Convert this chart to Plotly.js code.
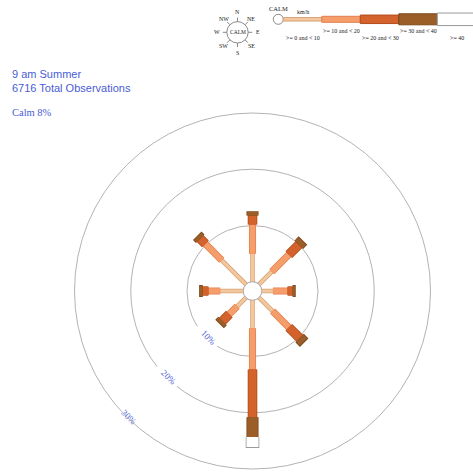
<!DOCTYPE html>
<html>
<head>
<meta charset="utf-8">
<script src="https://cdn.plot.ly/plotly-3.0.1.min.js"></script>
<style>html,body{margin:0;padding:0;background:#fff;}#chart{width:473px;height:474px;}</style>
</head>
<body>
<div id="chart"></div>
<script>
// ---- data ----
const directions = ['N','NE','E','SE','S','SW','W','NW'];
const speedClasses = ['>= 0 and < 10','>= 10 and < 20','>= 20 and < 30','>= 30 and < 40','>= 40'];
const pct0to10  = [5.0, 3.2, 2.0, 3.4, 5.0, 2.2, 4.1, 6.1];
const pct10to20 = [5.2, 4.3, 2.6, 4.1, 7.3, 2.0, 2.1, 4.1];
const pct20to30 = [1.6, 2.5, 0.9, 2.7, 8.5, 1.7, 1.0, 1.3];
const pct30to40 = [0.6, 0.9, 0.4, 1.0, 3.5, 0.6, 0.5, 0.6];
const pct40up   = [0.0, 0.0, 0.0, 0.0, 1.8, 0.0, 0.0, 0.0];
const ringValues = [10, 20, 30];
const ringLabels = ['10%', '20%', '30%'];
const ringLabelDirection = 'SW';
const calmPct = 8;
const totalObservations = 6716;
const titleText = '9 am Summer';

// ---- styles ----
const fills    = ['#f2c89f', '#f59e6c', '#d4622c', '#9b5e28', '#ffffff'];
const outlines = ['#d9a274', '#e2804c', '#b24c1c', '#7a4618', '#9a9a9a'];
const widths   = [3, 5.5, 8, 10.5, 12];
const blue = '#4a5cd6';
const W = 473, H = 474;
const cx = 252.5, cy = 291, R = 178;

const series = [pct0to10, pct10to20, pct20to30, pct30to40, pct40up];
const traces = [];

// calm circle (edge of hole)
const circTheta = [], circR = [];
for (let a = 0; a <= 360; a += 5) { circTheta.push(a); circR.push(0); }
traces.push({type:'scatterpolar', mode:'lines', r:circR, theta:circTheta,
  line:{color:'#999', width:1}, hoverinfo:'skip', showlegend:false});

const cum = directions.map(() => 0);
series.forEach((vals, k) => {
  const rO = [], rF = [], th = [];
  directions.forEach((d, i) => {
    const s = cum[i], e = cum[i] + vals[i];
    if (vals[i] > 0) {
      rF.push(s, e, null);
      rO.push(s, e + 0.15, null);
      th.push(i * 45, i * 45, null);
    }
    cum[i] = e;
  });
  traces.push({type:'scatterpolar', mode:'lines', r:rO, theta:th, connectgaps:false,
    line:{color:outlines[k], width:widths[k] + 1.6}, hoverinfo:'skip', showlegend:false});
  traces.push({type:'scatterpolar', mode:'lines', r:rF, theta:th, connectgaps:false,
    line:{color:fills[k], width:widths[k]}, name:speedClasses[k], showlegend:false});
});

// ring labels (white gap + text), placed by the polar scales
const labTheta = ringValues.map(() => directions.indexOf(ringLabelDirection) * 45);
traces.push({type:'scatterpolar', mode:'markers', r:ringValues, theta:labTheta, cliponaxis:false,
  marker:{symbol:'line-ew', size:20, angle:45, color:'#fff', line:{color:'#fff', width:9}},
  hoverinfo:'skip', showlegend:false});
traces.push({type:'scatterpolar', mode:'text', r:ringValues, theta:labTheta, text:ringLabels, cliponaxis:false,
  textposition:'middle center', textfont:{family:'Liberation Serif, Times New Roman, serif', size:9, color:blue},
  hoverinfo:'skip', showlegend:false});

// ---- legend decorations (paper coords from pixels) ----
const px = x => x / W, py = y => 1 - y / H;
const shapes = [], annotations = [];
const serif = 'Liberation Serif, Times New Roman, serif';
function txt(x, y, t, size, opts) {
  annotations.push(Object.assign({xref:'paper', yref:'paper', x:px(x), y:py(y), text:t, showarrow:false,
    xanchor:'center', yanchor:'middle', font:{family:serif, size:size, color:'#222'}}, opts || {}));
}
// compass
const ccx = 237.5, ccy = 32.3, cr = 10.7;
shapes.push({type:'circle', xref:'paper', yref:'paper', x0:px(ccx-cr), x1:px(ccx+cr), y0:py(ccy+cr), y1:py(ccy-cr),
  line:{color:'#888', width:1}, fillcolor:'#fff'});
txt(ccx, ccy, 'CALM', 5.5);
directions.forEach((d, i) => {
  const a = i * Math.PI / 4;
  const sx = Math.sin(a), sy = -Math.cos(a);
  shapes.push({type:'line', xref:'paper', yref:'paper', x0:px(ccx+sx*cr), y0:py(ccy+sy*cr),
    x1:px(ccx+sx*(cr+4)), y1:py(ccy+sy*(cr+4)), line:{color:'#888', width:1}});
  const lr = (i % 2 === 0) ? cr + 10 : cr + 8.5;
  txt(ccx + sx*lr, ccy + sy*lr, d, 6);
});
// speed bar legend
const lcx = 278.3, lcy = 19.3;
shapes.push({type:'circle', xref:'paper', yref:'paper', x0:px(lcx-5), x1:px(lcx+5), y0:py(lcy+5), y1:py(lcy-5),
  line:{color:'#888', width:1}, fillcolor:'#fff'});
txt(lcx, 8.5, 'CALM', 6.5);
txt(303, 12.5, 'km/h', 6);
const segStart = 283.3, segLen = 38.5;
speedClasses.forEach((c, k) => {
  const x0 = segStart + k * segLen, x1 = (k === 4) ? 480 : x0 + segLen, h = widths[k] + 0.5;
  shapes.push({type:'rect', xref:'paper', yref:'paper', x0:px(x0), x1:px(x1), y0:py(lcy + h/2), y1:py(lcy - h/2),
    fillcolor:fills[k], line:{color:outlines[k], width:1}});
  const ly = (k % 2 === 0) ? 38.3 : 30.7;
  txt(x0 + 20, ly, c, 6);
});
// titles
annotations.push({xref:'paper', yref:'paper', x:px(10), y:py(66), xanchor:'left', yanchor:'top', align:'left',
  showarrow:false, text:titleText + '<br>' + totalObservations + ' Total Observations',
  font:{family:'Liberation Sans, Arial, sans-serif', size:11, color:blue}});
annotations.push({xref:'paper', yref:'paper', x:px(10), y:py(112), xanchor:'left', yanchor:'middle',
  showarrow:false, text:'Calm ' + calmPct + '%', font:{family:serif, size:10.5, color:blue}});

const layout = {
  width: W, height: H,
  margin: {l:0, r:0, t:0, b:0},
  paper_bgcolor: '#fff',
  showlegend: false,
  polar: {
    domain: {x:[px(cx - R), px(cx + R)], y:[py(cy + R), py(cy - R)]},
    bgcolor: 'rgba(0,0,0,0)',
    hole: 9.2 / R,
    radialaxis: {range:[0, 30], tickvals:ringValues, showticklabels:false, showline:false, ticks:'',
      showgrid:true, gridcolor:'#b3b3b3', gridwidth:1},
    angularaxis: {rotation:90, direction:'clockwise', showgrid:false, showticklabels:false, ticks:'',
      showline:true, linecolor:'#b3b3b3', linewidth:1}
  },
  shapes: shapes,
  annotations: annotations
};
Plotly.newPlot('chart', traces, layout, {staticPlot:true, displayModeBar:false}).then(gd => {
  gd.querySelectorAll('.scatterlayer .textpoint text').forEach(t => {
    const x = t.getAttribute('x'), y = t.getAttribute('y');
    t.setAttribute('transform', 'rotate(45,' + x + ',' + y + ')');
  });
});
</script>
</body>
</html>
